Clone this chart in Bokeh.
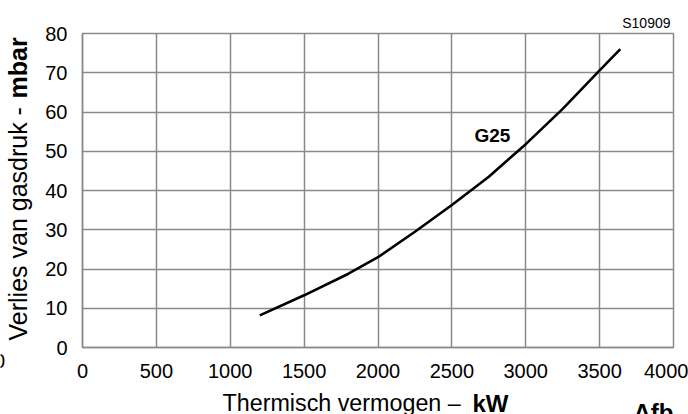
import math
from bokeh.plotting import figure
from bokeh.models import Range1d, FixedTicker, Label, Title
from bokeh.layouts import row, column
from bokeh.core.properties import value
from bokeh.embed import file_html
from bokeh.resources import INLINE

# Data
power_kw = [1200, 1500, 1800, 2000, 2250, 2500, 2750, 3000, 3250, 3500, 3640]
pressure_mbar = [8.2, 13.3, 18.8, 23.0, 29.5, 36.3, 43.5, 51.8, 60.8, 70.6, 76.0]
x_ticks = [0, 500, 1000, 1500, 2000, 2500, 3000, 3500, 4000]
y_ticks = [0, 10, 20, 30, 40, 50, 60, 70, 80]
series_name = "G25"
x_title = "Thermisch vermogen –"
x_title_bold = "kW"
y_title = "Verlies van gasdruk -"
y_title_bold = "mbar"
code_text = "S10909"
fig_text = "Afb."
edge_text = "0"

FONT = "Liberation Sans"
GRID = "#8a8a8a"

LEFT_W = 38
BOTTOM_H = 32
TOTAL_W = 688
TOTAL_H = 414
MAIN_W = TOTAL_W - LEFT_W
MAIN_H = TOTAL_H - BOTTOM_H


def strip(w, h):
    f = figure(title=None, width=w, height=h, frame_width=w, frame_height=h,
               output_backend="svg", toolbar_location=None,
               x_range=Range1d(0, w), y_range=Range1d(0, h),
               x_axis_location=None, y_axis_location=None,
               min_border=0, min_border_left=0, min_border_right=0,
               min_border_top=0, min_border_bottom=0)
    f.grid.visible = False
    f.outline_line_color = None
    f.background_fill_color = "white"
    f.border_fill_color = "white"
    return f


# ---------------- main chart ----------------
p = figure(width=MAIN_W, height=MAIN_H, output_backend="svg", toolbar_location=None,
           x_range=Range1d(0, 4000), y_range=Range1d(0, 80),
           min_border_left=82 - LEFT_W, min_border_right=TOTAL_W - 673,
           min_border_top=33, min_border_bottom=MAIN_H - 347)
p.background_fill_color = "white"
p.border_fill_color = "white"
p.outline_line_color = GRID
p.outline_line_width = 1.5

p.xaxis.ticker = FixedTicker(ticks=x_ticks)
p.yaxis.ticker = FixedTicker(ticks=y_ticks)
for ax in (p.xaxis[0], p.yaxis[0]):
    ax.axis_line_color = GRID
    ax.axis_line_width = 1.5
    ax.major_tick_line_color = None
    ax.minor_tick_line_color = None
    ax.major_tick_out = 0
    ax.major_tick_in = 0
    ax.major_label_text_font = FONT
    ax.major_label_text_font_size = "20px"
    ax.major_label_text_color = "black"
p.xaxis.major_label_standoff = 16
p.yaxis.major_label_standoff = 15

p.xgrid.ticker = FixedTicker(ticks=x_ticks)
p.ygrid.ticker = FixedTicker(ticks=y_ticks)
p.grid.grid_line_color = GRID
p.grid.grid_line_width = 1.5
p.grid.grid_line_alpha = 1.0

p.line(power_kw, pressure_mbar, line_color="black", line_width=2.6)

p.title = Title(text=code_text, align="right", offset=3, standoff=6,
                text_font=FONT, text_font_size="14px", text_font_style="normal",
                text_color="black", vertical_align="bottom")


def dx(px):
    return (px - 82) * 4000 / 591.0


def dy(py):
    return (347 - py) * 80 / 314.0


p.add_layout(Label(x=dx(474), y=dy(134.5), text=series_name, text_font=FONT,
                   text_font_size="19px", text_font_style="bold", text_color="black",
                   text_align="left", text_baseline="alphabetic"))

# ---------------- left strip: y title ----------------
left = strip(LEFT_W, MAIN_H)
left.text(x=[17.3], y=[MAIN_H - 307], text=[y_title], angle=math.pi / 2,
          text_font=value(FONT), text_font_size="25px", text_color="black",
          text_align="left", text_baseline="alphabetic")
left.text(x=[17.3], y=[MAIN_H - 65], text=[y_title_bold], angle=math.pi / 2,
          text_font=value(FONT), text_font_size="25px", text_font_style="bold",
          text_color="black", text_align="left", text_baseline="alphabetic")
left.text(x=[4.5], y=[MAIN_H - 327], text=[edge_text],
          text_font=value(FONT), text_font_size="20px", text_color="black",
          text_align="right", text_baseline="alphabetic")

# ---------------- bottom strip: x title ----------------
bottom = strip(TOTAL_W, BOTTOM_H)
bottom.text(x=[222], y=[TOTAL_H - 402.5], text=[x_title],
            text_font=value(FONT), text_font_size="23.3px", text_color="black",
            text_align="left", text_baseline="alphabetic")
bottom.text(x=[472], y=[TOTAL_H - 402.5], text=[x_title_bold],
            text_font=value(FONT), text_font_size="24px", text_font_style="bold",
            text_color="black", text_align="left", text_baseline="alphabetic")
bottom.text(x=[633], y=[TOTAL_H - 412], text=[fig_text],
            text_font=value(FONT), text_font_size="24px", text_font_style="bold",
            text_color="black", text_align="left", text_baseline="alphabetic")

layout = column(row(left, p, spacing=0), bottom, spacing=0)

open("out.html", "w").write(file_html(layout, INLINE))
